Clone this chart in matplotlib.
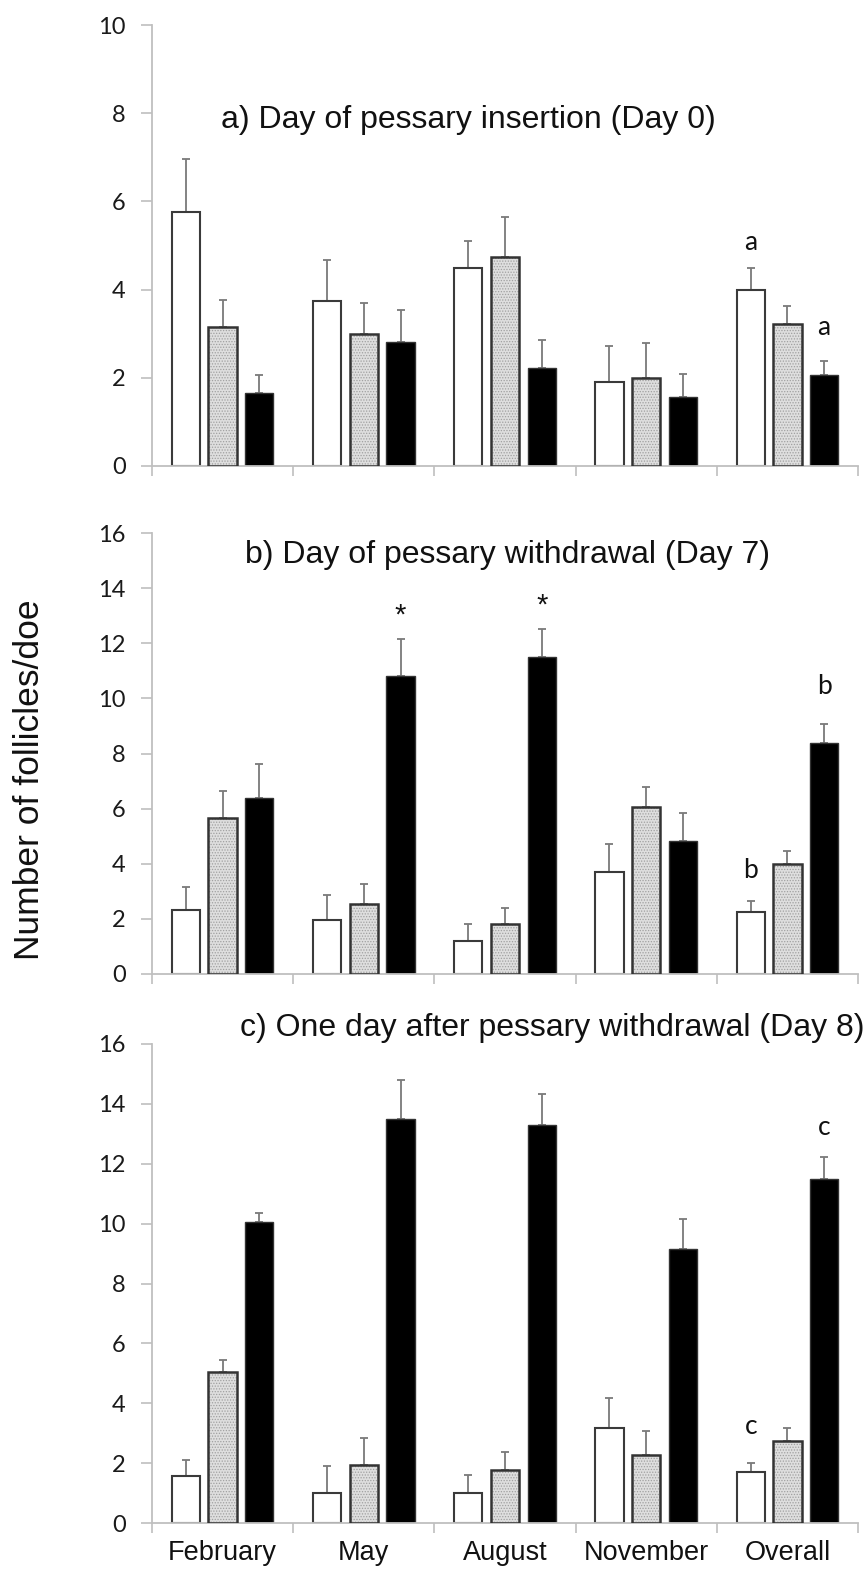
import numpy as np
import matplotlib
matplotlib.use("Agg")
import matplotlib.pyplot as plt

plt.rcParams['hatch.linewidth'] = 0.6

months = ["February", "May", "August", "November", "Overall"]

# a) Day 0
a_white = [5.77, 3.75, 4.5, 1.9, 4.0]
a_white_se = [1.19, 0.91, 0.6, 0.82, 0.48]
a_gray = [3.16, 3.0, 4.75, 2.0, 3.22]
a_gray_se = [0.6, 0.7, 0.9, 0.8, 0.41]
a_black = [1.66, 2.82, 2.22, 1.57, 2.06]
a_black_se = [0.4, 0.72, 0.63, 0.51, 0.32]

# b) Day 7
b_white = [2.32, 1.96, 1.2, 3.7, 2.26]
b_white_se = [0.84, 0.92, 0.6, 1.0, 0.4]
b_gray = [5.67, 2.54, 1.8, 6.05, 3.99]
b_gray_se = [0.98, 0.74, 0.6, 0.75, 0.47]
b_black = [6.39, 10.81, 11.5, 4.84, 8.39]
b_black_se = [1.23, 1.33, 1.02, 1.01, 0.69]

# c) Day 8
c_white = [1.57, 1.0, 1.0, 3.17, 1.71]
c_white_se = [0.54, 0.9, 0.6, 1.02, 0.3]
c_gray = [5.03, 1.94, 1.78, 2.27, 2.74]
c_gray_se = [0.4, 0.89, 0.58, 0.79, 0.42]
c_black = [10.05, 13.5, 13.3, 9.15, 11.5]
c_black_se = [0.32, 1.3, 1.02, 1.02, 0.72]

titles = ["a) Day of pessary insertion (Day 0)",
          "b) Day of pessary withdrawal (Day 7)",
          "c) One day after pessary withdrawal (Day 8)"]

W = 865.0
H = 1571.0
fig = plt.figure(figsize=(8.65, 15.71), dpi=100)

left = 152 / W
width = (858 - 152) / W


def make_ax(top_px, bottom_px):
    return fig.add_axes([left, 1 - bottom_px / H, width, (bottom_px - top_px) / H])


ax_a = make_ax(25, 466)
ax_b = make_ax(533, 974)
ax_c = make_ax(1044, 1523)

off = 0.26
bw = 0.2
spine_col = '#bfbfbf'
err_col = '#7a7a7a'


def draw_panel(ax, white, wse, gray, gse, black, kse, ymax, show_labels):
    x = np.arange(len(months))
    ax.bar(x - off, white, bw, color='white', edgecolor='#3a3a3a', lw=1.5, zorder=2)
    ax.bar(x, gray, bw, color='#dedede', edgecolor='#a0a0a0', hatch='......', lw=0, zorder=2)
    ax.bar(x, gray, bw, fill=False, edgecolor='#333333', lw=1.8, zorder=3)
    ax.bar(x + off, black, bw, color='black', edgecolor='#333333', lw=1, zorder=2)
    # upper error bars only
    for xs, vals, se in [(x - off, white, wse), (x, gray, gse), (x + off, black, kse)]:
        ax.errorbar(xs, vals, yerr=[np.zeros(len(se)), se], fmt='none', ecolor=err_col,
                    elinewidth=1.3, capsize=3, capthick=1.3, zorder=1)
    ax.set_xlim(-0.5, 4.5)
    ax.set_ylim(0, ymax)
    ax.set_yticks(np.arange(0, ymax + 1, 2))
    for s in ['top', 'right']:
        ax.spines[s].set_visible(False)
    for s in ['left', 'bottom']:
        ax.spines[s].set_color(spine_col)
        ax.spines[s].set_linewidth(1.3)
    ax.set_xticks(x)
    ax.set_xticks(np.arange(-0.5, 5, 1), minor=True)
    ax.tick_params(axis='x', which='major', length=0, pad=12)
    ax.tick_params(axis='x', which='minor', length=7, color=spine_col, width=1.2, direction='out')
    ax.tick_params(axis='y', length=8, color=spine_col, width=1.2, pad=11)
    for lab in ax.get_yticklabels():
        lab.set_family('Lato')
        lab.set_fontsize(17)
        lab.set_color('#1a1a1a')
    if show_labels:
        ax.set_xticklabels(months, family='Liberation Sans', fontsize=19.5, color='#111111')
    else:
        ax.set_xticklabels([])


draw_panel(ax_a, a_white, a_white_se, a_gray, a_gray_se, a_black, a_black_se, 10, False)
draw_panel(ax_b, b_white, b_white_se, b_gray, b_gray_se, b_black, b_black_se, 16, False)
draw_panel(ax_c, c_white, c_white_se, c_gray, c_gray_se, c_black, c_black_se, 16, True)

tfont = dict(family='Liberation Sans', fontsize=23, color='#111111', va='center')
fig.text(468 / W, 1 - 120 / H, titles[0], ha='center', **tfont)
fig.text(770 / W, 1 - 555 / H, titles[1], ha='right', **tfont)
fig.text(864 / W, 1 - 1028 / H, titles[2], ha='right', **tfont)

lfont = dict(family='Lato', fontsize=19, color='#111111', ha='center', va='center')
ax_a.text(4 - off, 5.06, 'a', **lfont)
ax_a.text(4 + off, 3.15, 'a', **lfont)
ax_b.text(4 - off, 3.77, 'b', **lfont)
ax_b.text(4 + off, 10.42, 'b', **lfont)
ax_c.text(4 - off, 3.24, 'c', **lfont)
ax_c.text(4 + off, 13.2, 'c', **lfont)
sfont = dict(family='Liberation Sans', fontsize=21, color='#111111', ha='center', va='center')
ax_b.text(1 + off, 13.0, '*', **sfont)
ax_b.text(2 + off, 13.35, '*', **sfont)

fig.text(30 / W, 1 - 780 / H, "Number of follicles/doe", rotation=90, ha='center', va='center',
         family='Liberation Sans', fontsize=25.5, color='#111111')

fig.savefig("out.png", dpi=100, facecolor='white')
